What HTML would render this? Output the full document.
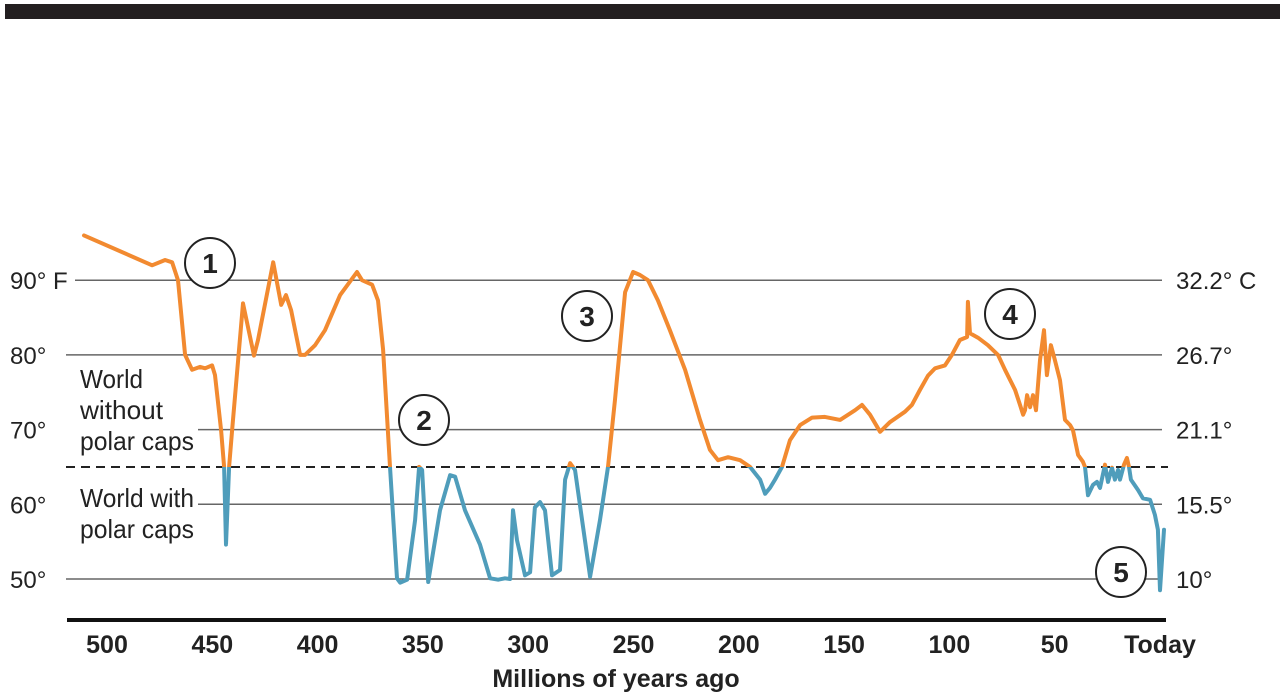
<!DOCTYPE html>
<html><head><meta charset="utf-8"><style>
body{margin:0;background:#fff;width:1280px;height:698px;overflow:hidden}
svg{display:block}
text{font-family:"Liberation Sans Narrow","Liberation Sans",sans-serif;fill:#222}
.lbl{font-size:24px}
.wl{font-size:26px}
.tick{font-size:25px;font-weight:bold;font-family:"Liberation Sans Narrow","Liberation Sans",sans-serif}
.num{font-size:28px;font-weight:bold;font-family:"Liberation Sans","Liberation Sans Narrow",sans-serif}
</style></head><body>
<svg id="chart" width="1280" height="698"></svg>
<script>
const ages=[510.9,478.6,472.4,469.1,466.3,462.9,459.6,455.8,453.4,450.1,448.7,445.8,444.4,443.5,442.0,440.6,435.4,430.2,428.3,421.1,417.3,415.0,412.6,408.3,406.0,401.2,396.5,389.3,381.3,378.9,374.1,371.3,368.9,365.6,362.3,360.8,357.5,353.7,351.8,350.4,347.5,341.9,337.1,334.7,330.0,322.9,318.1,314.3,311.0,308.6,307.2,305.3,301.5,299.1,296.8,294.4,292.0,288.7,284.9,282.5,280.1,277.8,270.6,265.9,262.1,258.8,254.0,250.2,246.9,243.1,238.4,232.7,225.5,218.4,213.7,209.9,205.1,199.4,194.7,189.9,187.5,185.2,182.8,179.5,175.7,170.9,165.2,159.1,151.9,144.8,141.5,137.7,132.9,128.2,121.1,117.8,114.0,110.2,106.8,102.1,98.8,95.0,91.6,91.2,90.2,86.4,81.7,76.9,73.6,68.8,66.5,65.0,64.1,63.1,61.7,60.3,58.9,57.0,55.1,53.7,51.8,49.9,47.5,45.1,42.7,41.3,38.9,36.6,35.6,34.2,31.8,29.9,28.5,26.1,24.7,22.8,21.4,19.9,19.0,17.1,15.7,14.7,13.8,10.4,8.1,4.7,2.4,1.0,0.0,-1.9];
const tempsF=[96.0,92.0,92.7,92.4,90.0,80.0,78.0,78.4,78.2,78.6,77.3,69.9,65.0,54.6,65.0,69.9,86.9,79.9,82.0,92.4,86.7,88.0,86.0,80.0,80.0,81.3,83.3,88.0,91.1,90.0,89.4,87.3,80.7,65.0,50.1,49.5,49.9,57.9,65.0,64.6,49.6,59.2,63.9,63.7,59.2,54.6,50.1,49.9,50.1,50.0,59.2,55.2,50.5,50.9,59.6,60.3,59.2,50.5,51.2,63.3,65.5,64.6,50.3,57.9,65.0,74.0,88.4,91.1,90.7,90.0,87.3,83.3,78.0,71.3,67.3,65.9,66.3,65.9,65.0,63.3,61.4,62.2,63.3,65.0,68.6,70.6,71.6,71.7,71.3,72.6,73.3,72.0,69.7,71.0,72.4,73.3,75.3,77.2,78.2,78.6,80.0,82.0,82.4,87.1,82.9,82.3,81.3,80.0,78.0,75.3,73.3,72.0,72.6,74.6,73.0,74.6,72.6,79.3,83.3,77.3,81.3,79.3,76.6,71.3,70.6,69.9,66.6,65.7,65.0,61.2,62.6,63.0,62.2,65.3,63.0,64.9,63.3,64.6,63.3,65.3,66.2,65.0,63.3,61.9,60.8,60.6,58.6,56.6,48.5,56.6];
const xTickVals=[500,450,400,350,300,250,200,150,100,50,0];
const xTickLabels=["500","450","400","350","300","250","200","150","100","50","Today"];
const gridF=[90,80,70,60,50];
const leftLabels=["90° F","80°","70°","60°","50°"];
const rightLabels=["32.2° C","26.7°","21.1°","15.5°","10°"];
const thresholdF=65;

const NS="http://www.w3.org/2000/svg";
const svg=document.getElementById('chart');
const X=a=>1160-a*2.106;
const Y=f=>579-(f-50)*7.47;
function mk(tag,attrs,parent){const e=document.createElementNS(NS,tag);for(const k in attrs)e.setAttribute(k,attrs[k]);(parent||svg).appendChild(e);return e;}

const bar=mk('rect',{x:5,y:4,width:1275,height:15,fill:'#231f20'});



const gridStart=[75,66,198,198,66];
gridF.forEach((f,i)=>{
  const g=mk('line',{x1:gridStart[i],x2:1162,y1:Y(f),y2:Y(f),stroke:'#666','stroke-width':1.5});
  
  
  const t=mk('text',{x:10,y:Y(f)+9,class:'lbl'});t.textContent=leftLabels[i];
  
  
  const r=mk('text',{x:1176,y:Y(f)+9,class:'lbl'});r.textContent=rightLabels[i];
  
  
});
const dash=mk('line',{x1:66,x2:1168,y1:Y(thresholdF),y2:Y(thresholdF),stroke:'#222','stroke-width':2,'stroke-dasharray':'9,6'});



[["World",388,63],["without",419,83],["polar caps",450,114]].forEach(([s,y,w])=>{const t=mk('text',{x:80,y:y,class:'wl',textLength:w,lengthAdjust:'spacingAndGlyphs'});t.textContent=s;
  
  });
[["World with",507,114],["polar caps",538,114]].forEach(([s,y,w])=>{const t=mk('text',{x:80,y:y,class:'wl',textLength:w,lengthAdjust:'spacingAndGlyphs'});t.textContent=s;
  
  });

const defs=mk('defs',{});
const c1=mk('clipPath',{id:'above'},defs);mk('rect',{x:0,y:0,width:1280,height:Y(thresholdF)},c1);
const c2=mk('clipPath',{id:'below'},defs);mk('rect',{x:0,y:Y(thresholdF),width:1280,height:698},c2);
const d=ages.map((a,i)=>(i?'L':'M')+X(a).toFixed(1)+','+Y(tempsF[i]).toFixed(1)).join(' ');
const lo=mk('path',{d:d,fill:'none',stroke:'#f28a30','stroke-width':4,'stroke-linejoin':'round','stroke-linecap':'round','clip-path':'url(#above)'});


const lb=mk('path',{d:d,fill:'none',stroke:'#4f9dbb','stroke-width':4,'stroke-linejoin':'round','stroke-linecap':'round','clip-path':'url(#below)'});



[["1",210,263],["2",424,420],["3",587,316],["4",1010,314],["5",1121,572]].forEach(([n,cx,cy])=>{
  const c=mk('circle',{cx:cx,cy:cy,r:25,fill:'#fff',stroke:'#222','stroke-width':2});
  
  
  const t=mk('text',{x:cx,y:cy+10,class:'num','text-anchor':'middle'});t.textContent=n;
  
  
});

const ax=mk('line',{x1:67,x2:1166,y1:620,y2:620,stroke:'#111','stroke-width':4});


xTickVals.forEach((v,i)=>{
  const t=mk('text',{x:X(v),y:653,class:'tick','text-anchor':'middle'});t.textContent=xTickLabels[i];
  
  
});
const tt=mk('text',{x:616,y:687,class:'tick','text-anchor':'middle'});tt.textContent='Millions of years ago';


</script>
</body></html>
